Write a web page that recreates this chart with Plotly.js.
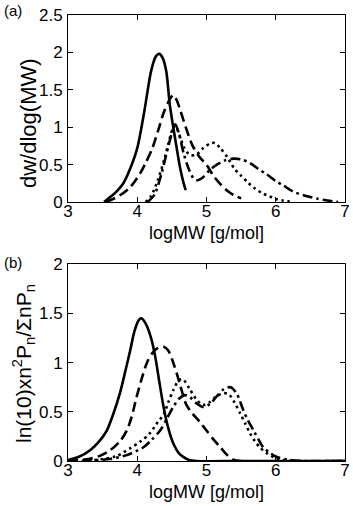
<!DOCTYPE html>
<html>
<head>
<meta charset="utf-8">
<script src="https://cdn.plot.ly/plotly-3.0.1.min.js"></script>
<style>html,body{margin:0;padding:0;background:#fff;}#chart{width:353px;height:506px;}</style>
</head>
<body>
<div id="chart"></div>
<script>
// Panel (a): dw/dlog(MW)
var solidA_x = [3.52, 3.6, 3.7, 3.8, 3.9, 4.0, 4.1, 4.2, 4.27, 4.32, 4.37, 4.42, 4.47, 4.52, 4.57, 4.62, 4.67, 4.70];
var solidA_y = [0, 0.06, 0.14, 0.25, 0.45, 0.72, 1.2, 1.75, 1.95, 1.98, 1.92, 1.74, 1.3, 1.0, 0.72, 0.45, 0.25, 0.16];

var dashA_x = [3.55, 3.65, 3.75, 3.9, 4.04, 4.12, 4.21, 4.3, 4.38, 4.45, 4.52, 4.57, 4.62, 4.7, 4.8, 4.9, 5.0, 5.1, 5.2, 5.3, 5.4, 5.5];
var dashA_y = [0, 0.04, 0.09, 0.2, 0.38, 0.52, 0.70, 0.95, 1.19, 1.34, 1.43, 1.36, 1.23, 1.0, 0.75, 0.6, 0.5, 0.35, 0.24, 0.15, 0.09, 0.05];

var dotA_x = [4.12, 4.2, 4.3, 4.4, 4.45, 4.5, 4.55, 4.6, 4.68, 4.76, 4.85, 4.95, 5.05, 5.12, 5.2, 5.3, 5.4, 5.5, 5.6, 5.7, 5.8, 5.9, 6.0, 6.1, 6.25];
var dotA_y = [0, 0.08, 0.3, 0.6, 0.78, 0.95, 1.02, 0.92, 0.72, 0.63, 0.63, 0.72, 0.78, 0.79, 0.72, 0.6, 0.45, 0.35, 0.26, 0.18, 0.12, 0.08, 0.04, 0.02, 0];

var dashdotA_x = [4.15, 4.25, 4.35, 4.45, 4.5, 4.55, 4.6, 4.67, 4.74, 4.81, 4.87, 4.95, 5.05, 5.15, 5.25, 5.39, 5.5, 5.63, 5.75, 5.87, 6.0, 6.11, 6.25, 6.4, 6.6, 6.75, 6.9];
var dashdotA_y = [0, 0.1, 0.38, 0.75, 0.92, 1.04, 0.92, 0.65, 0.45, 0.32, 0.29, 0.33, 0.43, 0.5, 0.55, 0.58, 0.57, 0.52, 0.44, 0.37, 0.28, 0.22, 0.14, 0.09, 0.045, 0.02, 0];

// Panel (b): ln(10) x n^2 Pn / sum(n Pn)
var solidB_x = [3.0, 3.15, 3.32, 3.45, 3.56, 3.65, 3.75, 3.83, 3.90, 3.96, 4.02, 4.06, 4.12, 4.2, 4.26, 4.32, 4.38, 4.45, 4.52, 4.6, 4.67, 4.75, 4.86, 5.5, 7.0];
var solidB_y = [0.01, 0.04, 0.11, 0.2, 0.31, 0.47, 0.69, 0.92, 1.13, 1.32, 1.43, 1.45, 1.40, 1.25, 1.06, 0.8, 0.55, 0.33, 0.18, 0.08, 0.04, 0.01, 0, 0, 0];

var dashB_x = [3.0, 3.3, 3.45, 3.61, 3.75, 3.85, 3.92, 3.99, 4.07, 4.14, 4.22, 4.3, 4.39, 4.45, 4.51, 4.57, 4.64, 4.71, 4.8, 4.9, 5.0, 5.1, 5.2, 5.3, 5.4, 5.5, 7.0];
var dashB_y = [0, 0.02, 0.05, 0.11, 0.2, 0.31, 0.45, 0.65, 0.85, 1.0, 1.1, 1.15, 1.16, 1.12, 1.02, 0.89, 0.72, 0.57, 0.48, 0.4, 0.31, 0.22, 0.14, 0.06, 0.01, 0, 0];

var dotB_x = [3.2, 3.5, 3.7, 3.9, 4.05, 4.18, 4.3, 4.38, 4.45, 4.52, 4.6, 4.66, 4.75, 4.85, 4.95, 5.05, 5.15, 5.25, 5.32, 5.4, 5.49, 5.56, 5.63, 5.7, 5.77, 5.87, 5.97, 6.1, 6.2, 7.0];
var dotB_y = [0, 0.02, 0.05, 0.13, 0.2, 0.28, 0.4, 0.47, 0.6, 0.72, 0.82, 0.83, 0.74, 0.63, 0.57, 0.6, 0.66, 0.69, 0.68, 0.6, 0.48, 0.38, 0.28, 0.2, 0.14, 0.08, 0.04, 0.01, 0, 0];

var dashdotB_x = [3.2, 3.6, 3.85, 4.09, 4.2, 4.33, 4.42, 4.52, 4.6, 4.69, 4.76, 4.85, 4.95, 5.05, 5.15, 5.25, 5.35, 5.44, 5.53, 5.6, 5.68, 5.75, 5.82, 5.92, 6.02, 6.2, 6.4, 7.0];
var dashdotB_y = [0, 0.02, 0.06, 0.14, 0.21, 0.31, 0.42, 0.55, 0.63, 0.67, 0.65, 0.59, 0.55, 0.58, 0.66, 0.73, 0.75, 0.68, 0.52, 0.41, 0.31, 0.22, 0.14, 0.08, 0.04, 0.01, 0, 0];

var xTicks = [3, 4, 5, 6, 7];
var yTicksA = [0, 0.5, 1, 1.5, 2, 2.5];
var yTicksB = [0, 0.5, 1, 1.5, 2];
var yTickTextA = ['0', '0.5', '1', '1.5', '2', '2.5'];
var yTickTextB = ['0', '0.5', '1', '1.5', '2'];
var xTitle = 'logMW [g/mol]';
var yTitleA = 'dw/dlog(MW)';
var yTitleB = 'ln(10)xn<sup>2</sup>P<sub>n</sub>/ΣnP<sub>n</sub>';

var LW = 2.6;
var styles = {
  solid: 'solid',
  dash: '10px,5px',
  dot: '2.6px,3.6px',
  dashdot: '10px,4px,2.6px,4px'
};
function tr(x, y, dash, xa, ya) {
  return {x: x, y: y, xaxis: xa, yaxis: ya, mode: 'lines', type: 'scatter',
    line: {color: '#000', width: LW, dash: dash, shape: 'spline', smoothing: 0.8},
    hoverinfo: 'skip', showlegend: false};
}
var data = [
  tr(dashdotA_x, dashdotA_y, styles.dashdot, 'x', 'y'),
  tr(dotA_x, dotA_y, styles.dot, 'x', 'y'),
  tr(dashA_x, dashA_y, styles.dash, 'x', 'y'),
  tr(solidA_x, solidA_y, styles.solid, 'x', 'y'),
  tr(dashdotB_x, dashdotB_y, styles.dashdot, 'x2', 'y2'),
  tr(dotB_x, dotB_y, styles.dot, 'x2', 'y2'),
  tr(dashB_x, dashB_y, styles.dash, 'x2', 'y2'),
  tr(solidB_x, solidB_y, styles.solid, 'x2', 'y2')
];

var FONT = 'Liberation Sans, Arial, Helvetica, sans-serif';
function xax(anchor) {
  return {
    anchor: anchor, domain: [0, 1], range: [3, 7], tickvals: xTicks, ticktext: xTicks.map(String),
    ticks: 'inside', ticklen: 5, tickwidth: 1, tickcolor: '#000', mirror: 'ticks',
    showline: true, linecolor: '#000', linewidth: 1, showgrid: false, zeroline: false,
    tickfont: {family: FONT, size: 17, color: '#000'}, ticklabelstandoff: -6,
    automargin: false
  };
}
function yax(anchor, domain, range, vals, txt) {
  return {
    anchor: anchor, domain: domain, range: range, tickvals: vals, ticktext: txt,
    ticks: 'inside', ticklen: 5, tickwidth: 1, tickcolor: '#000', mirror: 'ticks',
    showline: true, linecolor: '#000', linewidth: 1, showgrid: false, zeroline: false,
    tickfont: {family: FONT, size: 17, color: '#000'}, ticklabelstandoff: 1,
    automargin: false
  };
}
// plot area: x 68..345 px, y 15..461 px (paper fractions computed from these)
function px2x(p) { return (p - 68) / 277; }
function px2y(p) { return (461 - p) / 446; }
function ann(text, xp, yp, size, angle, xanchor) {
  return {text: text, xref: 'paper', yref: 'paper', x: px2x(xp), y: px2y(yp),
    xanchor: xanchor || 'center', yanchor: 'middle', textangle: angle || 0,
    showarrow: false, font: {family: FONT, size: size, color: '#000'}};
}
var layout = {
  width: 353, height: 506,
  margin: {l: 68, r: 8, t: 15, b: 45},
  paper_bgcolor: '#fff', plot_bgcolor: '#fff',
  xaxis: xax('y'),
  yaxis: yax('x', [0.5807, 1], [0, 2.5], yTicksA, yTickTextA),
  xaxis2: xax('y2'),
  yaxis2: yax('x2', [0, 0.441], [0, 2], yTicksB, yTickTextB),
  annotations: [
    ann('(a)', 2, 10, 15, 0, 'left'),
    ann('(b)', 2, 262, 15, 0, 'left'),
    ann(xTitle, 206, 233, 18),
    ann(xTitle, 206, 492, 18),
    ann(yTitleA, 28, 123, 22, -90),
    ann(yTitleB, 23, 364, 21, -90)
  ]
};
Plotly.newPlot('chart', data, layout, {staticPlot: true, displayModeBar: false});
</script>
</body>
</html>
